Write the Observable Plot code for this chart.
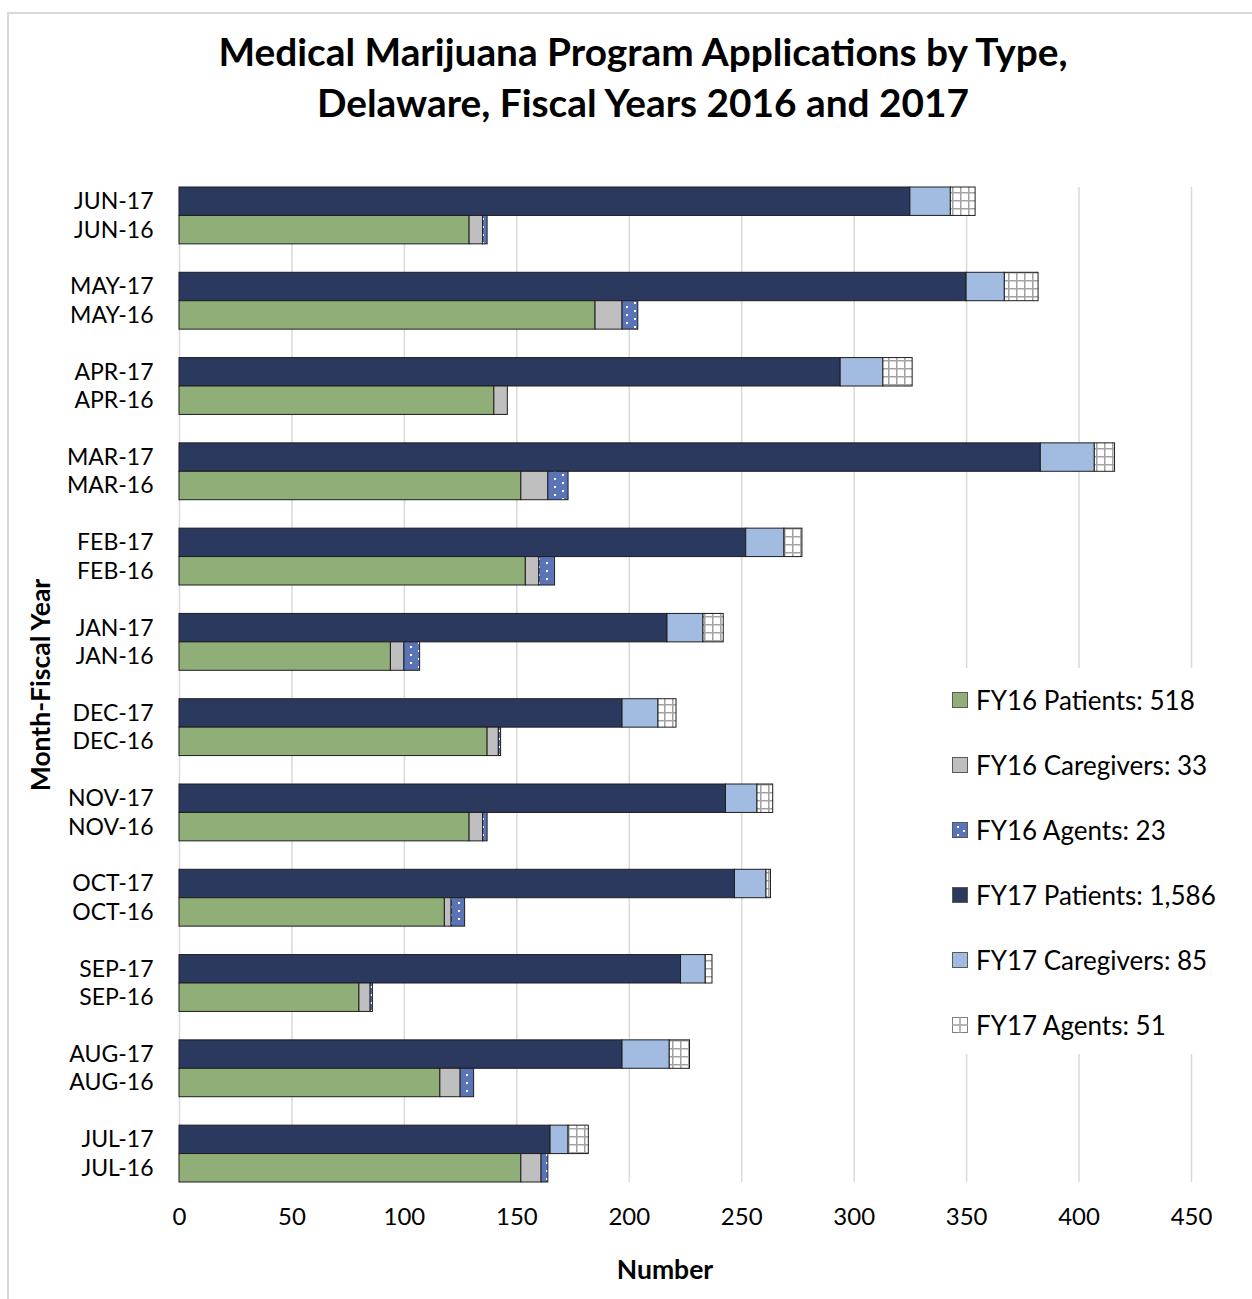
<!DOCTYPE html>
<html>
<head>
<meta charset="utf-8">
<script src="https://cdn.jsdelivr.net/npm/d3@7"></script>
<script src="https://cdn.jsdelivr.net/npm/@observablehq/plot@0.6"></script>
<style>
  body { margin: 0; background: #fff; font-family: Lato, "Open Sans", sans-serif; color: #000; }
  #wrap { position: relative; width: 1252px; height: 1299px; overflow: hidden; background: #fff; }
  #frame { position: absolute; left: 7px; top: 12px; width: 1400px; height: 1400px; border-top: 2px solid #d9d9d9; border-left: 2px solid #d9d9d9; }
  #chart { position: absolute; left: 0; top: 0; }
  #title { position: absolute; left: 0; top: 26px; width: 1286px; text-align: center; font-weight: 700; font-size: 38.8px; line-height: 51px; }
  #xlabel { position: absolute; left: 565px; width: 200px; top: 1254px; text-align: center; font-weight: 700; font-size: 26.5px; line-height: 30px; }
  #ylabel { position: absolute; left: 40px; top: 685px; transform: translate(-50%, -50%) rotate(-90deg); white-space: nowrap; font-weight: 700; font-size: 26.5px; line-height: 30px; }
  #legend { position: absolute; left: 938px; top: 668px; width: 300px; height: 386px; background: #fff; }
  .item { position: absolute; left: 14px; height: 30px; display: flex; align-items: center; font-size: 26px; white-space: nowrap; }
  .item svg { margin-right: 8px; }
</style>
</head>
<body>
<div id="wrap">
  <div id="frame"></div>
  <div id="chart"></div>
  <div id="title">Medical Marijuana Program Applications by Type,<br>Delaware, Fiscal Years 2016 and 2017</div>
  <div id="xlabel">Number</div>
  <div id="ylabel">Month-Fiscal Year</div>
  <div id="legend"></div>
</div>
<script>
// ---------- data (top to bottom as drawn) ----------
const months = ["JUN", "MAY", "APR", "MAR", "FEB", "JAN", "DEC", "NOV", "OCT", "SEP", "AUG", "JUL"];
const fy17Patients   = [325, 350, 294, 383, 252, 217, 197, 243, 247, 223, 197, 165];
const fy17Caregivers = [18, 17, 19, 24, 17, 16, 16, 14, 14, 11, 21, 8];
const fy17Agents     = [11, 15, 13, 9, 8, 9, 8, 7, 2, 3, 9, 9];
const fy16Patients   = [129, 185, 140, 152, 154, 94, 137, 129, 118, 80, 116, 152];
const fy16Caregivers = [6, 12, 6, 12, 6, 6, 5, 6, 3, 5, 9, 9];
const fy16Agents     = [2, 7, 0, 9, 7, 7, 1, 2, 6, 1, 6, 3];
const xTicks = [0, 50, 100, 150, 200, 250, 300, 350, 400, 450];
const seriesNames = ["FY16 Patients", "FY16 Caregivers", "FY16 Agents", "FY17 Patients", "FY17 Caregivers", "FY17 Agents"];
const seriesFills = ["#8fae78", "#bfbfbf", "url(#dots16)", "#2b395e", "#a1bbe1", "url(#grid17)"];
const legendLabels = ["FY16 Patients: 518", "FY16 Caregivers: 33", "FY16 Agents: 23", "FY17 Patients: 1,586", "FY17 Caregivers: 85", "FY17 Agents: 51"];

// ---------- build table ----------
const rows = [];
const yDomain = [];
const tickLabels = [];
months.forEach((m, i) => {
  const a = `${m}-17`, b = `${m}-16`;
  yDomain.push(a, b);
  if (i < months.length - 1) yDomain.push(`gap-${i}`);
  tickLabels.push(a, b);
  rows.push({label: a, series: "FY17 Patients", value: fy17Patients[i]});
  rows.push({label: a, series: "FY17 Caregivers", value: fy17Caregivers[i]});
  rows.push({label: a, series: "FY17 Agents", value: fy17Agents[i]});
  rows.push({label: b, series: "FY16 Patients", value: fy16Patients[i]});
  rows.push({label: b, series: "FY16 Caregivers", value: fy16Caregivers[i]});
  rows.push({label: b, series: "FY16 Agents", value: fy16Agents[i]});
});

const chart = Plot.plot({
  width: 1252,
  height: 1299,
  marginLeft: 179,
  marginRight: 61,
  marginTop: 187,
  marginBottom: 117,
  style: {fontFamily: "Lato, 'Open Sans', sans-serif", fontSize: "22px", color: "#000", background: "transparent", overflow: "visible"},
  x: {domain: [0, 450]},
  y: {domain: yDomain, padding: 0, round: false},
  color: {domain: seriesNames, range: seriesFills},
  marks: [
    Plot.gridX(xTicks, {stroke: "#d9d9d9", strokeOpacity: 1, strokeWidth: 1.5}),
    Plot.barX(rows, Plot.stackX({x: "value", y: "label", fill: "series", z: "series", order: null, stroke: "#1e1e1e", strokeWidth: 1})),
    Plot.axisX(xTicks, {tickSize: 0, tickPadding: 25, fontSize: 24, label: null}),
    Plot.axisY(tickLabels, {tickSize: 0, tickPadding: 26, fontSize: 23, label: null})
  ]
});

d3.select(chart).insert("defs", ":first-child").html(`
  <pattern id="dots16" width="16" height="8" patternUnits="userSpaceOnUse">
    <rect width="16" height="8" fill="#5b74b8"></rect>
    <rect x="2" y="2" width="2" height="2" fill="#fff"></rect>
    <rect x="10" y="6" width="2" height="2" fill="#fff"></rect>
  </pattern>
  <pattern id="grid17" width="8" height="8" patternUnits="userSpaceOnUse">
    <rect width="8" height="8" fill="#fff"></rect>
    <path d="M0 0.75H8M0.75 0V8" stroke="#a3a3a3" stroke-width="1.6"></path>
  </pattern>`);
document.getElementById("chart").appendChild(chart);

// ---------- legend ----------
const legend = document.getElementById("legend");
const centers = [32, 97, 162, 227, 292, 357];
const swatchDefs = [
  `<rect x="0.5" y="0.5" width="15" height="15" fill="#8fae78" stroke="#595959"/>`,
  `<rect x="0.5" y="0.5" width="15" height="15" fill="#bfbfbf" stroke="#595959"/>`,
  `<rect x="0.5" y="0.5" width="15" height="15" fill="#5b74b8" stroke="#595959"/><rect x="5" y="4" width="2" height="2" fill="#fff"/><rect x="11" y="8" width="2" height="2" fill="#fff"/><rect x="5" y="12" width="2" height="2" fill="#fff"/>`,
  `<rect x="0.5" y="0.5" width="15" height="15" fill="#2b395e" stroke="#595959"/>`,
  `<rect x="0.5" y="0.5" width="15" height="15" fill="#a1bbe1" stroke="#595959"/>`,
  `<rect x="0.5" y="0.5" width="15" height="15" fill="#fff" stroke="#7f7f7f"/><path d="M8 0V16M0 8H16" stroke="#a3a3a3" stroke-width="1.5"/>`
];
legendLabels.forEach((t, i) => {
  const d = document.createElement("div");
  d.className = "item";
  d.style.top = (centers[i] - 15) + "px";
  d.innerHTML = `<svg width="16" height="16" viewBox="0 0 16 16">${swatchDefs[i]}</svg><span>${t}</span>`;
  legend.appendChild(d);
});
</script>
</body>
</html>
